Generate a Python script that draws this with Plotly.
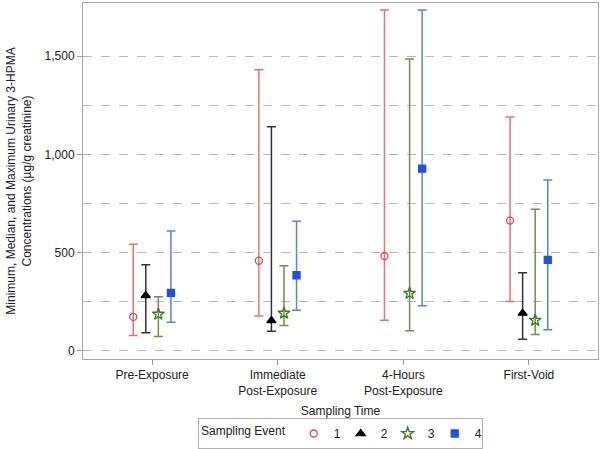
import plotly.graph_objects as go

categories = ["Pre-Exposure", "Immediate<br>Post-Exposure", "4-Hours<br>Post-Exposure", "First-Void"]
events = ["1", "2", "3", "4"]

# min, median, max for each sampling event across categories
ev1_min = [78, 178, 156, 251]
ev1_med = [173, 459, 483, 663]
ev1_max = [543, 1430, 1734, 1190]

ev2_min = [93, 100, None, 59]
ev2_med = [282, 154, None, 192]
ev2_max = [439, 1141, None, 398]

ev3_min = [73, 129, 103, 83]
ev3_med = [187, 192, 293, 156]
ev3_max = [276, 434, 1485, 721]

ev4_min = [146, 207, 230, 108]
ev4_med = [295, 385, 927, 463]
ev4_max = [610, 660, 1734, 870]

series = [
    (ev1_min, ev1_med, ev1_max),
    (ev2_min, ev2_med, ev2_max),
    (ev3_min, ev3_med, ev3_max),
    (ev4_min, ev4_med, ev4_max),
]

offsets = [-0.15, -0.05, 0.05, 0.15]
colors = ["#e8474b", "#000000", "#3b7a1a", "#1f4ff0"]
line_colors = ["#f07070", "#333333", "#6a9150", "#5a80f5"]
symbols = ["circle-open", "triangle-up", "star-open", "square"]
sizes = [7, 8, 9, 7]

fig = go.Figure()
for i, (mn, md, mx) in enumerate(series):
    xs, ys, up, dn = [], [], [], []
    for j in range(len(categories)):
        if md[j] is None:
            continue
        xs.append(j + offsets[i])
        ys.append(md[j])
        up.append(mx[j] - md[j])
        dn.append(md[j] - mn[j])
    fig.add_trace(go.Scatter(
        x=xs, y=ys, mode="markers", name=events[i],
        marker=dict(symbol=symbols[i], color=colors[i], size=sizes[i],
                    line=dict(color=colors[i], width=1.3)),
        error_y=dict(type="data", array=up, arrayminus=dn, symmetric=False,
                     color=line_colors[i], thickness=1.5, width=4.5),
    ))

font_fam = "Arial, Liberation Sans, sans-serif"
fig.update_layout(
    width=600, height=449,
    margin=dict(l=83, r=2, t=3, b=90),
    paper_bgcolor="white", plot_bgcolor="white",
    font=dict(family=font_fam, size=12, color="#222222"),
    showlegend=True,
    legend=dict(
        orientation="h", x=0.5, xanchor="center",
        yref="container", y=-0.006, yanchor="bottom",
        title=dict(text="Sampling Event", side="left", font=dict(size=12)),
        bordercolor="#b0b0b0", borderwidth=1, font=dict(size=12),
        itemwidth=30, entrywidth=2, tracegroupgap=0,
    ),
    xaxis=dict(
        range=[-0.55, 3.55], automargin=False,
        tickvals=list(range(len(categories))), ticktext=categories,
        ticks="outside", ticklen=5, tickcolor="#a0a0a0",
        showline=True, mirror=True, linecolor="#a8a8a8", linewidth=1,
        showgrid=False, zeroline=False,
        title=dict(text="Sampling Time", standoff=10, font=dict(size=12)),
        tickfont=dict(size=12),
    ),
    yaxis=dict(
        range=[-41, 1770], automargin=False,
        tickvals=[0, 500, 1000, 1500], tickformat=",d",
        ticks="outside", ticklen=5, tickcolor="#a0a0a0",
        showline=True, mirror=True, linecolor="#a8a8a8", linewidth=1,
        showgrid=True, gridcolor="#b8b8b8", griddash="dash", gridwidth=1,
        zeroline=False,
        minor=dict(tickvals=[250, 750, 1250], showgrid=True, gridcolor="#b8b8b8",
                   griddash="dash", gridwidth=1, ticks=""),
        title=dict(text="Minimum, Median, and Maximum Urinary 3-HPMA<br>Concentrations (µg/g creatinine)",
                   standoff=10, font=dict(size=12)),
        tickfont=dict(size=12),
    ),
)

fig.write_html("out.html", config={"displayModeBar": False},
               post_script="document.body.style.margin='0';")
